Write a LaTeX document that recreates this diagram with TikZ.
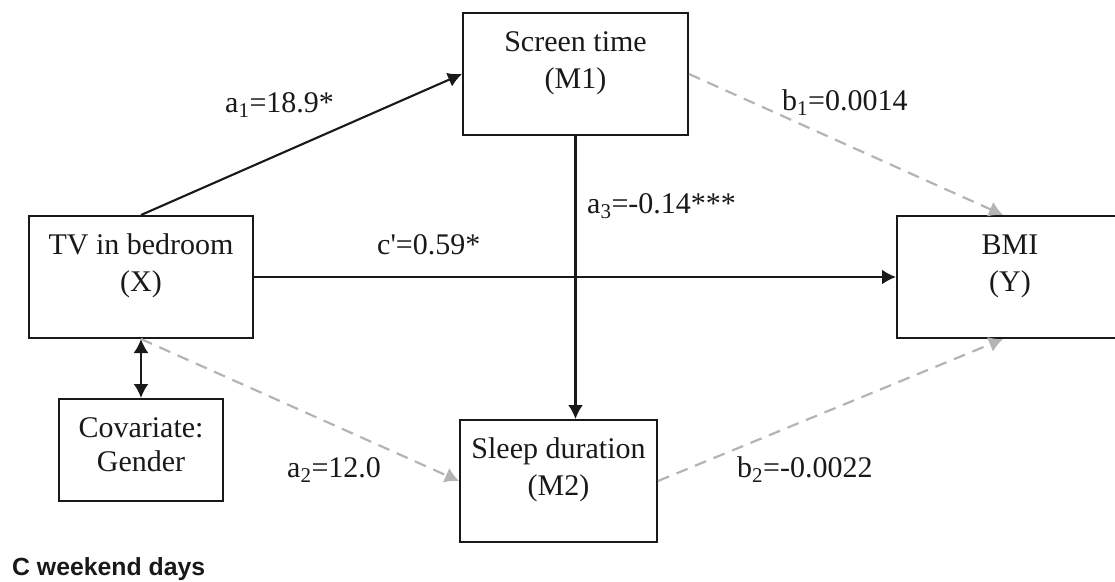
\documentclass[tikz,border=0pt]{standalone}
\usepackage{fontspec}
\setmainfont{Liberation Serif}
\newfontfamily\labsans{Liberation Sans}
\usetikzlibrary{arrows.meta,calc}
\definecolor{dgray}{RGB}{180,180,180}
\definecolor{ink}{RGB}{25,25,25}
\tikzset{
 box/.style={draw=ink, line width=2pt, minimum width=#1, minimum height=122pt, inner sep=0pt},
 txt/.style={font=\fontsize{30}{37}\selectfont, text=ink, align=center, inner sep=0pt},
 lab/.style={font=\fontsize{30}{37}\selectfont, text=ink, inner sep=0pt, anchor=base west},
 solidarr/.style={draw=ink, line width=2.1pt, -{Latex[length=14pt,width=15pt]}},
 dblarr/.style={draw=ink, line width=2.1pt, {Latex[length=14pt,width=15pt]}-{Latex[length=14pt,width=15pt]}},
 dasharr/.style={draw=dgray, line width=2.2pt, dash pattern=on 12pt off 8pt, -{Latex[length=14pt,width=16pt]}},
}
\begin{document}
\begin{tikzpicture}[x=1pt,y=-1pt]
\useasboundingbox (0,0) rectangle (1115,581);
\clip (0,0) rectangle (1115,581);
% boxes
\node[box=224pt] (X) at (141,277) {};
\node[box=164pt, minimum height=102pt] (C) at (141,450) {};
\node[box=225pt] (M1) at (575.5,74) {};
\node[box=197pt] (M2) at (558.5,481) {};
\node[box=226pt] (Y) at (1010,277) {};
% box texts
\node[txt] (Xt) at ([yshift=11pt]X.center) {TV in bedroom\\(X)};
\node[txt, font=\fontsize{30}{34}\selectfont] (Ct) at ([yshift=5pt]C.center) {Covariate:\\Gender};
\node[txt] (M1t) at ([yshift=11pt]M1.center) {Screen time\\(M1)};
\node[txt] (M2t) at ([yshift=11pt]M2.center) {Sleep duration\\(M2)};
\node[txt] (Yt) at ([yshift=11pt]Y.center) {BMI\\(Y)};
% connectors
\draw[solidarr] (X.north) -- (M1.west);
\draw[solidarr] (X.east) -- (Y.west);
\draw[solidarr] (M1.south) -- (M1.south |- M2.north);
\draw[dblarr] (X.south) -- (C.north);
\draw[dasharr] (M1.east) -- ([xshift=-7pt]Y.north);
\draw[dasharr] (X.south) -- (M2.west);
\draw[dasharr] (M2.east) -- ([xshift=-7pt]Y.south);
% labels
\node[lab] (la1) at (225,112) {a\textsubscript{1}=18.9*};
\node[lab] (lc) at (377,254) {c\textquotesingle=0.59*};
\node[lab] (la3) at (587,213) {a\textsubscript{3}=-0.14***};
\node[lab] (lb1) at (782,110) {b\textsubscript{1}=0.0014};
\node[lab] (la2) at (287,477) {a\textsubscript{2}=12.0};
\node[lab] (lb2) at (737,477) {b\textsubscript{2}=-0.0022};
\node[font=\labsans\fontsize{24.8}{28}\bfseries\selectfont, anchor=base west, inner sep=0pt, text=ink] (cap) at (12,575) {C weekend days};
\end{tikzpicture}
\end{document}
